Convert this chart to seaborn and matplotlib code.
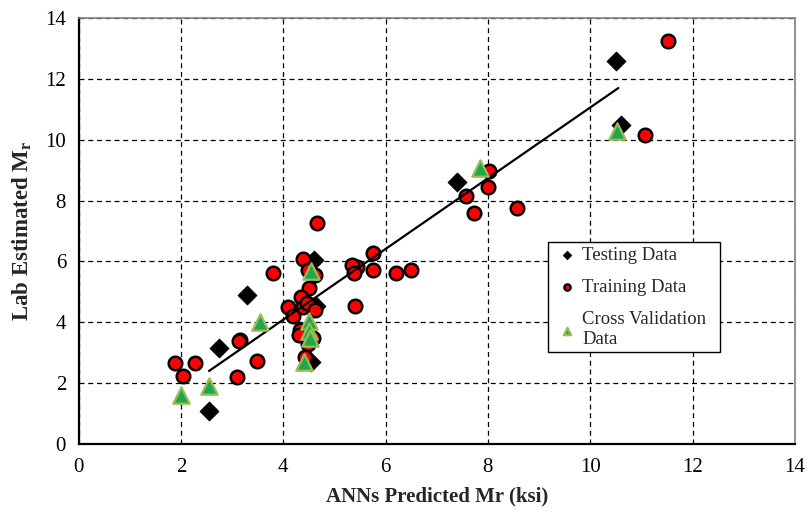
import matplotlib
matplotlib.use("Agg")
import matplotlib.pyplot as plt
import seaborn as sns
import pandas as pd

# ---- data ----
test_x = [2.55, 2.75, 3.3, 4.55, 4.65, 4.6, 7.4, 10.5, 10.6]
test_y = [1.1, 3.15, 4.9, 2.7, 4.55, 6.05, 8.6, 12.6, 10.5]

train_x = [1.89, 2.04, 2.28, 3.09, 3.48, 3.15, 3.13, 3.8, 4.39, 4.48, 4.62, 4.5, 4.35,
           4.09, 4.19, 4.39, 4.46, 4.62, 4.33, 4.3, 4.58, 4.48, 4.42, 5.44, 5.34, 5.38,
           5.75, 5.75, 5.4, 6.2, 6.5, 4.66, 8.03, 8.0, 7.57, 7.73, 8.56, 11.52, 11.08]
train_y = [2.65, 2.23, 2.65, 2.2, 2.73, 3.42, 3.38, 5.62, 6.08, 5.72, 5.55, 5.12, 4.83,
           4.5, 4.2, 4.5, 4.63, 4.4, 3.75, 3.58, 3.5, 3.3, 2.85, 5.83, 5.88, 5.62,
           6.27, 5.72, 4.53, 5.62, 5.72, 7.26, 8.97, 8.45, 8.15, 7.6, 7.77, 13.25, 10.15]

cv_x = [2.0, 2.55, 3.55, 4.55, 4.5, 4.5, 4.52, 4.4, 7.85, 10.52]
cv_y = [1.6, 1.9, 4.0, 5.7, 4.05, 3.72, 3.5, 2.7, 9.08, 10.28]

trend_x = [2.55, 10.55]
trend_y = [2.4, 11.7]

x_ticks = [0, 2, 4, 6, 8, 10, 12, 14]
y_ticks = [0, 2, 4, 6, 8, 10, 12, 14]

series_labels = ["Testing Data", "Training Data", "Cross Validation\nData"]

# ---- style ----
sns.set_style("white")
plt.rcParams['font.family'] = ['Liberation Serif', 'DejaVu Serif']
plt.rcParams['mathtext.fontset'] = 'custom'
plt.rcParams['mathtext.rm'] = 'Liberation Serif'
plt.rcParams['mathtext.bf'] = 'Liberation Serif:bold'

fig = plt.figure(figsize=(8.07, 5.16), dpi=100)
ax = fig.add_axes([0.0973, 0.1395, 0.8877, 0.8255])

df_test = pd.DataFrame({"x": test_x, "y": test_y})
df_train = pd.DataFrame({"x": train_x, "y": train_y})
df_cv = pd.DataFrame({"x": cv_x, "y": cv_y})
df_trend = pd.DataFrame({"x": trend_x, "y": trend_y})

sns.scatterplot(data=df_test, x="x", y="y", ax=ax, marker="D", s=95,
                color="black", edgecolor="black", linewidth=0.5, zorder=3,
                label=series_labels[0])
sns.scatterplot(data=df_train, x="x", y="y", ax=ax, marker="o", s=95,
                color="#ff0000", edgecolor="black", linewidth=1.8, zorder=4,
                label=series_labels[1])
sns.lineplot(data=df_trend, x="x", y="y", ax=ax, color="black", linewidth=1.6,
             zorder=5)
sns.scatterplot(data=df_cv, x="x", y="y", ax=ax, marker="^", s=140,
                color="#1fa84a", edgecolor="#9bbb59", linewidth=1.6, zorder=6,
                label=series_labels[2])

ax.set_xlim(0, 14)
ax.set_ylim(0, 14)
ax.set_xticks(x_ticks)
ax.set_yticks(y_ticks)
ax.tick_params(axis="both", direction="out", length=4, width=1, colors="black",
               labelsize=15, pad=5)
ax.tick_params(axis="x", pad=6)
ax.grid(True, linestyle=(0, (4, 3)), color="black", linewidth=0.9)
ax.set_axisbelow(True)

for side in ["left", "bottom"]:
    ax.spines[side].set_color("black")
    ax.spines[side].set_linewidth(1.6)
for side in ["top", "right"]:
    ax.spines[side].set_color("#808080")
    ax.spines[side].set_linewidth(1.2)

ax.set_xlabel("ANNs Predicted Mr (ksi)", fontsize=15, fontweight="bold", labelpad=7)
ax.set_ylabel(r"Lab Estimated M$_\mathbf{r}$", fontsize=16.5, fontweight="bold", labelpad=8)

leg = ax.legend(loc="upper left", bbox_to_anchor=(0.655, 0.216, 0.24, 0.258),
                mode="expand", frameon=True,
                fancybox=False, edgecolor="black", fontsize=13.5, markerscale=0.45,
                handlelength=1.6, handletextpad=0.0, labelspacing=0.8,
                borderpad=0.25, borderaxespad=0)
leg.get_frame().set_linewidth(1.0)
leg.get_frame().set_alpha(1)
leg.set_zorder(10)

fig.savefig("out.png", dpi=100)
